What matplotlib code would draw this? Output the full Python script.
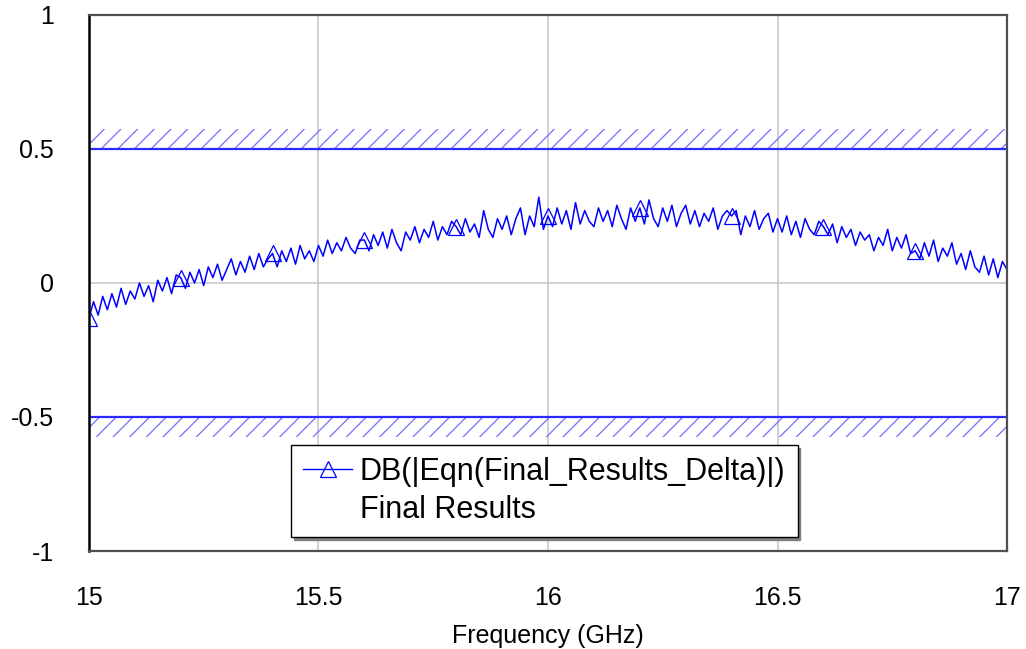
import numpy as np
import matplotlib.pyplot as plt
from matplotlib.lines import Line2D

plt.rcParams['font.family'] = ['Liberation Sans', 'DejaVu Sans']
plt.rcParams['hatch.linewidth'] = 0.9

# ---------------------------------------------------------------------
# Data
# ---------------------------------------------------------------------
freq_start = 15.0
freq_step = 0.01

delta_db = [
    -0.13, -0.07, -0.12, -0.05, -0.10, -0.04, -0.09, -0.02, -0.08, -0.03,
    -0.06, 0.00, -0.05, -0.01, -0.07, 0.01, -0.03, 0.02, -0.04, 0.03,
    0.02, -0.02, 0.04, 0.00, 0.05, -0.01, 0.06, 0.02, 0.07, 0.01,
    0.05, 0.09, 0.03, 0.08, 0.04, 0.10, 0.05, 0.11, 0.06, 0.09,
    0.11, 0.06, 0.12, 0.08, 0.13, 0.07, 0.14, 0.09, 0.12, 0.08,
    0.14, 0.10, 0.16, 0.11, 0.15, 0.12, 0.17, 0.13, 0.11, 0.16,
    0.16, 0.12, 0.18, 0.14, 0.19, 0.13, 0.20, 0.15, 0.12, 0.19,
    0.16, 0.21, 0.15, 0.20, 0.17, 0.23, 0.16, 0.21, 0.18, 0.23,
    0.21, 0.18, 0.24, 0.19, 0.22, 0.17, 0.27, 0.20, 0.17, 0.24,
    0.20, 0.25, 0.18, 0.24, 0.28, 0.18, 0.25, 0.21, 0.32, 0.20,
    0.25, 0.21, 0.28, 0.22, 0.27, 0.20, 0.30, 0.22, 0.27, 0.23,
    0.21, 0.28, 0.23, 0.27, 0.21, 0.29, 0.24, 0.20, 0.28, 0.23,
    0.28, 0.22, 0.31, 0.24, 0.21, 0.28, 0.23, 0.29, 0.21, 0.26,
    0.29, 0.22, 0.27, 0.21, 0.26, 0.23, 0.28, 0.20, 0.25, 0.27,
    0.25, 0.27, 0.18, 0.25, 0.21, 0.27, 0.20, 0.24, 0.26, 0.19,
    0.24, 0.19, 0.25, 0.18, 0.23, 0.17, 0.24, 0.20, 0.18, 0.23,
    0.21, 0.18, 0.22, 0.15, 0.21, 0.17, 0.20, 0.14, 0.19, 0.16,
    0.18, 0.12, 0.17, 0.14, 0.20, 0.12, 0.17, 0.13, 0.18, 0.11,
    0.12, 0.09, 0.15, 0.10, 0.16, 0.08, 0.13, 0.10, 0.15, 0.07,
    0.11, 0.05, 0.12, 0.06, 0.04, 0.10, 0.03, 0.09, 0.02, 0.08,
    0.05,
]
freq = freq_start + freq_step * np.arange(len(delta_db))

spec_upper = 0.5
spec_lower = -0.5
spec_band = 0.075

x_ticks = [15, 15.5, 16, 16.5, 17]
x_tick_labels = ["15", "15.5", "16", "16.5", "17"]
y_ticks = [-1, -0.5, 0, 0.5, 1]
y_tick_labels = ["-1", "-0.5", "0", "0.5", "1"]

trace_label = "DB(|Eqn(Final_Results_Delta)|)"
source_label = "Final Results"

# ---------------------------------------------------------------------
# Plot
# ---------------------------------------------------------------------
fig = plt.figure(figsize=(10.26, 6.49), dpi=100)
ax = fig.add_axes([0.0867, 0.151, 0.8948, 0.826])

ax.set_xlim(15, 17)
ax.set_ylim(-1, 1)

ax.grid(True, color="#c8c8c8", linewidth=1.2)
ax.set_axisbelow(True)

# spec limit bands with hatching
ax.fill_between([15, 17], spec_upper, spec_upper + spec_band,
                facecolor="none", edgecolor="#7070ff", hatch="//", linewidth=0)
ax.fill_between([15, 17], spec_lower - spec_band, spec_lower,
                facecolor="none", edgecolor="#7070ff", hatch="//", linewidth=0)
ax.axhline(spec_upper, color="#2a2aff", linewidth=1.6)
ax.axhline(spec_lower, color="#2a2aff", linewidth=1.6)

ax.plot(freq, delta_db, color="#0000ff", linewidth=1.1,
        marker="^", markevery=slice(0, 200, 20), markersize=12,
        markerfacecolor="none", markeredgecolor="#0000ff",
        markeredgewidth=0.9)

ax.set_xticks(x_ticks)
ax.set_xticklabels(x_tick_labels)
ax.set_yticks(y_ticks)
ax.set_yticklabels(y_tick_labels)
ax.tick_params(length=0, labelsize=18)
ax.tick_params(axis="y", pad=25)
ax.tick_params(axis="x", pad=25)

ax.set_xlabel("Frequency (GHz)", fontsize=18, labelpad=10)

for side in ["top", "right", "bottom"]:
    ax.spines[side].set_color("#505050")
    ax.spines[side].set_linewidth(1.6)
ax.spines["left"].set_color("black")
ax.spines["left"].set_linewidth(1.8)

handles = [
    Line2D([], [], color="#0000ff", linewidth=1.0, marker="^",
           markersize=12, markerfacecolor="none", markeredgewidth=0.9),
    Line2D([], [], color="none"),
]
leg = ax.legend(handles, [trace_label, source_label],
                loc="upper left", bbox_to_anchor=(0.22, 0.198),
                borderaxespad=0, fontsize=22, frameon=True, fancybox=False,
                shadow={"color": "#808080", "alpha": 1.0},
                handlelength=1.6, handletextpad=0.25, labelspacing=0.25,
                borderpad=0.4)
leg.get_frame().set_edgecolor("black")
leg.get_frame().set_linewidth(1.0)

fig.savefig("out.png", dpi=100)
